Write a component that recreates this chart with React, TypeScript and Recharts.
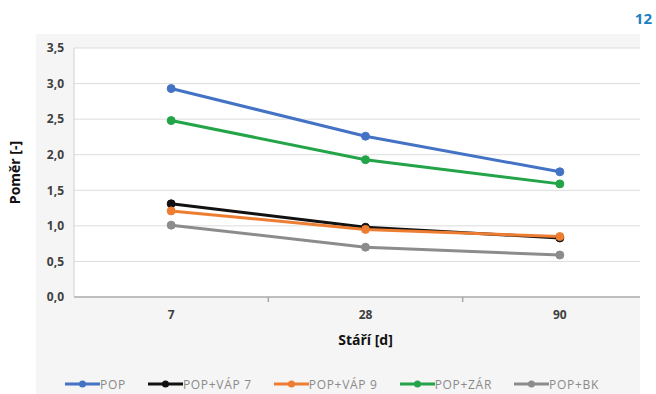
import React from 'react';
import { LineChart, Line, XAxis, YAxis, CartesianGrid, Legend, Label } from 'recharts';

const ages = ['7', '28', '90'];
const pop = [2.93, 2.26, 1.76];
const popVap7 = [1.31, 0.98, 0.83];
const popVap9 = [1.21, 0.95, 0.85];
const popZar = [2.48, 1.93, 1.59];
const popBk = [1.01, 0.70, 0.59];
const yTicks = [0, 0.5, 1, 1.5, 2, 2.5, 3, 3.5];
// category slots and the boundaries between them
const xTicks = [0, 0.5, 1, 1.5, 2];

const series = [
  { key: 'pop', name: 'POP', color: '#4472C4' },
  { key: 'popVap7', name: 'POP+VÁP 7', color: '#111111' },
  { key: 'popVap9', name: 'POP+VÁP 9', color: '#ED7D31' },
  { key: 'popZar', name: 'POP+ZÁR', color: '#23A448' },
  { key: 'popBk', name: 'POP+BK', color: '#8C8C8C' },
];

const data = ages.map((age, i) => ({
  slot: i,
  age,
  pop: pop[i],
  popVap7: popVap7[i],
  popVap9: popVap9[i],
  popZar: popZar[i],
  popBk: popBk[i],
}));

const font = '"Open Sans", "Noto Sans", sans-serif';

const LegendRow = () => (
  <div style={{ display: 'flex', alignItems: 'center', height: 20, paddingLeft: 65 }}>
    {series.map(s => (
      <div key={s.key} style={{ display: 'flex', alignItems: 'center', marginRight: 22 }}>
        <svg width={35} height={10}>
          <line x1={0} y1={5} x2={35} y2={5} stroke={s.color} strokeWidth={3} />
          <circle cx={17.5} cy={5} r={3.5} fill={s.color} />
        </svg>
        <span style={{ fontFamily: font, fontSize: 12, color: '#8a8a8a', letterSpacing: 0.7 }}>{s.name}</span>
      </div>
    ))}
  </div>
);

// whole slots get the age label, half slots a short boundary mark
const AgeTick = (p: any) => {
  const v = p.payload.value;
  const axisY = p.y - 13;
  if (!Number.isInteger(v)) {
    return <line x1={p.x} x2={p.x} y1={axisY} y2={axisY + 5} stroke="#a8a8a8" strokeWidth={1.5} />;
  }
  return (
    <text x={p.x} y={p.y} dy="0.71em" textAnchor="middle" fontFamily={font} fontSize={12} fontWeight={700} fill="#404040">
      {ages[v]}
    </text>
  );
};

export default function App() {
  return (
    <div style={{ position: 'absolute', left: 0, top: 0, width: 656, height: 394, overflow: 'hidden', background: '#fff' }}>
      <div style={{ position: 'absolute', left: 36, top: 34, width: 604, height: 360, background: '#f5f5f5' }} />
      <div style={{ position: 'absolute', right: 4, top: 8, fontFamily: font, fontWeight: 700, fontSize: 15, color: '#1a80c4' }}>12</div>
      <div style={{ position: 'absolute', left: 0, top: 0, width: 640, height: 394, overflow: 'hidden' }}>
        <LineChart width={660} height={394} data={data} margin={{ top: 48, right: 3, left: 0, bottom: 27 }}>
          <CartesianGrid vertical={false} stroke="#dcdcdc" fill="#ffffff" />
          <XAxis
            dataKey="slot"
            type="number"
            domain={[-0.5, 2.5]}
            ticks={xTicks}
            interval={0}
            axisLine={{ stroke: '#b0b0b0', strokeWidth: 1.5 }}
            tickLine={false}
            tickSize={0}
            tickMargin={13}
            height={50}
            tick={AgeTick}
          >
            <Label value="Stáří [d]" position="insideBottom" offset={2} style={{ fontFamily: font, fontSize: 14, fontWeight: 700, fill: '#111' }} />
          </XAxis>
          <YAxis
            domain={[0, 3.5]}
            ticks={yTicks}
            width={74}
            tickSize={0}
            tickMargin={10}
            tickLine={false}
            axisLine={{ stroke: '#d0d0d0' }}
            tickFormatter={(v: number) => v.toFixed(1).replace('.', ',')}
            tick={{ fontFamily: font, fontSize: 12, fontWeight: 700, fill: '#404040' }}
          >
            <Label value="Poměr [-]" angle={-90} position="insideLeft" offset={15} style={{ textAnchor: 'middle', fontFamily: font, fontSize: 14, fontWeight: 700, fill: '#111' }} />
          </YAxis>
          <Legend verticalAlign="bottom" wrapperStyle={{ bottom: 0, left: 0, width: 660, height: 20 }} content={() => <LegendRow />} />
          {series.map(s => (
            <Line
              key={s.key}
              dataKey={s.key}
              name={s.name}
              stroke={s.color}
              strokeWidth={3}
              dot={{ r: 4, fill: s.color, stroke: s.color, strokeWidth: 1 }}
              isAnimationActive={false}
            />
          ))}
        </LineChart>
      </div>
    </div>
  );
}
